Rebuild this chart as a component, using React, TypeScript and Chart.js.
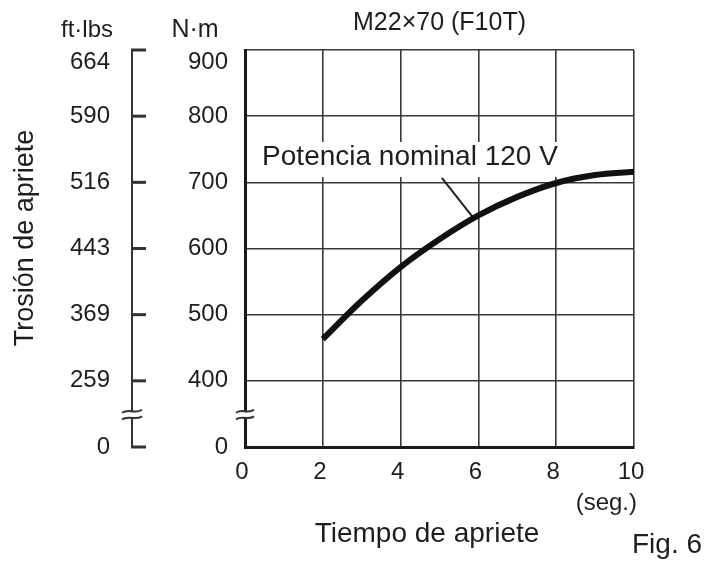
import React, { useEffect, useRef } from 'react';
import { Chart, registerables } from 'chart.js';

Chart.register(...registerables);

// ---- data ----
const timeSec = [2, 3, 4, 5, 6, 7, 8, 9, 10];
const torqueNm = [463, 521, 572, 614, 650, 678, 699, 711, 716];
const xTickValues = [0, 2, 4, 6, 8, 10];
// 300 on the scale stands for the broken-axis "0"
const yTickValues = [300, 400, 500, 600, 700, 800, 900];
const nmTickLabels = ['0', '400', '500', '600', '700', '800', '900'];
const ftlbsTickLabels = ['0', '259', '369', '443', '516', '590', '664'];

const chartTitle = 'M22×70 (F10T)';
const seriesLabel = 'Potencia nominal 120 V';
const xTitle = 'Tiempo de apriete';
const yTitle = 'Trosión de apriete';
const xUnit = '(seg.)';
const ftUnit = 'ft·lbs';
const nmUnit = 'N·m';
const figLabel = 'Fig. 6';

const FONT = "'Liberation Sans', Arial, Helvetica, sans-serif";
const INK = '#1e1e1e';
const GRID = '#383838';

function font(size: number) {
  return `${size}px ${FONT}`;
}

function drawBreak(ctx: CanvasRenderingContext2D, cx: number, yTop: number, yBot: number, halfW: number) {
  ctx.save();
  ctx.fillStyle = '#ffffff';
  ctx.fillRect(cx - 4, yTop + 1, 8, yBot - yTop - 2);
  ctx.strokeStyle = '#333';
  ctx.lineWidth = 2;
  for (const yy of [yTop, yBot]) {
    ctx.beginPath();
    ctx.moveTo(cx - halfW, yy + 1.5);
    ctx.bezierCurveTo(cx - halfW / 3, yy - 3, cx + halfW / 3, yy + 3, cx + halfW, yy - 1.5);
    ctx.stroke();
  }
  ctx.restore();
}

const decorPlugin = {
  id: 'decor',
  beforeDatasetsDraw(chart: any) {
    const { ctx, scales } = chart;
    const x = scales.x;
    const y = scales.y;
    // white box behind the series label
    const bx0 = x.getPixelForValue(0.13);
    const bx1 = x.getPixelForValue(8.25);
    const by0 = y.getPixelForValue(761);
    const by1 = y.getPixelForValue(708);
    ctx.save();
    ctx.fillStyle = '#ffffff';
    ctx.fillRect(bx0, by0, bx1 - bx0, by1 - by0);
    ctx.fillStyle = INK;
    ctx.font = font(28);
    ctx.textAlign = 'left';
    ctx.textBaseline = 'alphabetic';
    ctx.fillText(seriesLabel, x.getPixelForValue(0.44), y.getPixelForValue(726));
    // leader line
    ctx.strokeStyle = '#222';
    ctx.lineWidth = 2;
    ctx.beginPath();
    ctx.moveTo(x.getPixelForValue(5.06), y.getPixelForValue(706.6));
    ctx.lineTo(x.getPixelForValue(5.86), y.getPixelForValue(647));
    ctx.stroke();
    ctx.restore();
  },
  afterDraw(chart: any) {
    const { ctx, scales, chartArea } = chart;
    const y = scales.y;
    const top = y.getPixelForValue(900);
    const bottom = y.getPixelForValue(300);
    const breakTop = y.getPixelForValue(354);
    const breakBot = y.getPixelForValue(344);

    // ft·lbs axis line and ticks
    const axX = 132;
    ctx.save();
    ctx.strokeStyle = '#333';
    ctx.lineWidth = 2;
    ctx.beginPath();
    ctx.moveTo(axX, top);
    ctx.lineTo(axX, bottom);
    ctx.stroke();
    ctx.lineWidth = 3;
    for (const v of yTickValues) {
      const py = y.getPixelForValue(v);
      ctx.beginPath();
      ctx.moveTo(axX - 1, py);
      ctx.lineTo(axX + 14, py);
      ctx.stroke();
    }
    ctx.restore();

    drawBreak(ctx, axX, breakTop, breakBot, 10);
    drawBreak(ctx, chartArea.left, breakTop, breakBot, 9);

    // texts
    ctx.save();
    ctx.fillStyle = INK;
    ctx.textBaseline = 'alphabetic';

    ctx.font = font(25);
    ctx.textAlign = 'center';
    ctx.fillText(chartTitle, (chartArea.left + chartArea.right) / 2, 30);

    ctx.font = font(24);
    ctx.textAlign = 'left';
    ctx.fillText(ftUnit, 61, 37);
    ctx.font = font(25);
    ctx.textAlign = 'center';
    ctx.fillText(nmUnit, 195, 37);

    ctx.font = font(24);
    ctx.textAlign = 'right';
    ctx.fillText(xUnit, chartArea.right + 3, 510);

    ctx.font = font(28);
    ctx.textAlign = 'center';
    ctx.fillText(xTitle, 427, 542);

    ctx.font = font(28);
    ctx.textAlign = 'left';
    ctx.fillText(figLabel, 632, 553);

    ctx.save();
    ctx.translate(33, 238);
    ctx.rotate(-Math.PI / 2);
    ctx.font = font(27);
    ctx.textAlign = 'center';
    ctx.fillText(yTitle, 0, 0);
    ctx.restore();

    ctx.restore();
  },
};

export default function App() {
  const canvasRef = useRef<HTMLCanvasElement | null>(null);

  useEffect(() => {
    document.body.style.margin = '0';
    document.body.style.overflow = 'hidden';
    const canvas = canvasRef.current;
    if (!canvas) return;
    Chart.defaults.font.family = FONT;
    Chart.defaults.color = INK;

    const chart = new Chart(canvas, {
      type: 'line',
      data: {
        datasets: [
          {
            label: seriesLabel,
            data: timeSec.map((t, i) => ({ x: t, y: torqueNm[i] })),
            borderColor: '#111111',
            borderWidth: 6,
            borderCapStyle: 'butt',
            pointRadius: 0,
            tension: 0.4,
            fill: false,
          },
        ],
      },
      options: {
        animation: false,
        responsive: true,
        maintainAspectRatio: false,
        layout: { padding: { top: 50, right: 72, bottom: 0, left: 0 } },
        plugins: {
          legend: { display: false },
          tooltip: { enabled: false },
          title: { display: false },
        },
        scales: {
          x: {
            type: 'linear',
            min: 0,
            max: 10,
            afterBuildTicks: (scale: any) => {
              scale.ticks = xTickValues.map((v) => ({ value: v }));
            },
            afterFit: (scale: any) => {
              scale.height = 115;
            },
            ticks: {
              padding: 11,
              labelOffset: -3,
              maxRotation: 0,
              autoSkip: false,
              color: INK,
              font: { size: 24, family: FONT },
              callback: (v: any) => String(v),
            },
            grid: { color: GRID, lineWidth: 1.6, drawTicks: false },
            border: { display: true, color: '#1a1a1a', width: 3 },
          },
          y: {
            type: 'linear',
            position: 'left',
            min: 300,
            max: 900,
            weight: 0,
            afterBuildTicks: (scale: any) => {
              scale.ticks = yTickValues.map((v) => ({ value: v }));
            },
            afterFit: (scale: any) => {
              scale.width = 125;
            },
            ticks: {
              padding: 17,
              autoSkip: false,
              color: INK,
              font: { size: 24, family: FONT, lineHeight: 1 },
              callback: (_v: any, i: number) => (i === yTickValues.length - 1 ? ['', nmTickLabels[i]] : nmTickLabels[i]),
            },
            grid: { color: GRID, lineWidth: 1.6, drawTicks: false },
            border: { display: true, color: '#1a1a1a', width: 3 },
          },
          y2: {
            type: 'linear',
            axis: 'y',
            position: 'left',
            min: 300,
            max: 900,
            weight: 1,
            afterBuildTicks: (scale: any) => {
              scale.ticks = yTickValues.map((v) => ({ value: v }));
            },
            afterFit: (scale: any) => {
              scale.width = 120;
            },
            ticks: {
              padding: 10,
              autoSkip: false,
              color: INK,
              font: { size: 24, family: FONT, lineHeight: 1 },
              callback: (_v: any, i: number) => (i === yTickValues.length - 1 ? ['', ftlbsTickLabels[i]] : ftlbsTickLabels[i]),
            },
            grid: { display: false, drawTicks: false },
            border: { display: false },
          },
        },
      } as any,
      plugins: [decorPlugin],
    });
    return () => chart.destroy();
  }, []);

  return (
    <div style={{ position: 'relative', width: 706, height: 562 }}>
      <canvas ref={canvasRef} />
    </div>
  );
}
